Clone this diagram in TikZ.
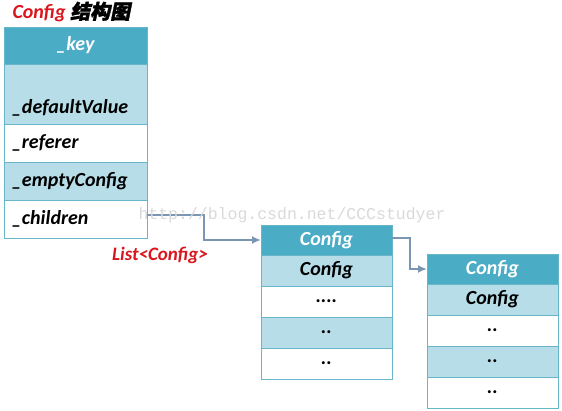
\documentclass[tikz,border=0pt]{standalone}
\usepackage{fontspec}
\setmainfont{Carlito}
\newfontfamily\cjkfont[FakeSlant=0.2,FakeBold=1.5]{Noto Sans CJK SC}
\newfontfamily\markfont{Liberation Mono}
\usepackage{xcolor}
\usetikzlibrary{positioning,arrows.meta}
\definecolor{HeadTeal}{HTML}{4BACC6}
\definecolor{RowBlue}{HTML}{B6DDE8}
\definecolor{GridTeal}{HTML}{68B6CA}
\definecolor{TitleRed}{HTML}{D9161E}
\definecolor{LinkGrey}{HTML}{7A96B2}

\tikzset{
  cell/.style={rectangle, draw=GridTeal, line width=0.8pt, outer sep=0pt,
    inner ysep=0pt, font=\fontsize{20}{23}\selectfont\bfseries\itshape},
  leftcell/.style={cell, minimum height=38pt, inner xsep=8pt, text width=127pt, align=left},
  chaincell/.style={cell, minimum height=31pt, minimum width=131pt, inner xsep=0pt, align=center},
  headrow/.style={fill=HeadTeal, text=white},
  bluerow/.style={fill=RowBlue},
  plainrow/.style={fill=white},
  link/.style={draw=LinkGrey, line width=2pt, -{Latex[length=9pt,width=8pt]}}
}

\begin{document}
\begin{tikzpicture}[x=1pt, y=-1pt]
  \useasboundingbox (0,0) rectangle (562,411);

  % title
  \node[anchor=west, font=\fontsize{20}{23}\selectfont\bfseries\itshape] (title) at (9,12)
    {\textcolor{TitleRed}{Config} {\cjkfont 结构图}};

  % Config structure
  \node[leftcell, headrow, minimum height=37pt, align=center] (key) at (75.5,45.5) {\_key};
  \node[leftcell, bluerow, below=0pt of key, minimum height=60pt, text height=44pt, text depth=5pt] (defval) {\_defaultValue};
  \node[leftcell, plainrow, below=0pt of defval] (referer) {\_referer};
  \node[leftcell, bluerow, below=0pt of referer] (empty) {\_emptyConfig};
  \node[leftcell, plainrow, below=0pt of empty] (children) {\_children};

  \node[font=\fontsize{19}{22}\selectfont\bfseries\itshape, text=TitleRed] (listlbl) at (160,255) {List<Config>};

  % first child
  \node[chaincell, headrow, minimum height=30pt] (cfgA) at (326.5,240) {Config};
  \node[chaincell, bluerow, below=0pt of cfgA] (cfgAname) {Config};
  \node[chaincell, plainrow, below=0pt of cfgAname] (cfgAone) {....};
  \node[chaincell, bluerow, below=0pt of cfgAone] (cfgAtwo) {..};
  \node[chaincell, plainrow, below=0pt of cfgAtwo] (cfgAthree) {..};

  % second child
  \node[chaincell, headrow, minimum height=30pt] (cfgB) at (492.5,269) {Config};
  \node[chaincell, bluerow, below=0pt of cfgB] (cfgBname) {Config};
  \node[chaincell, plainrow, below=0pt of cfgBname] (cfgBone) {..};
  \node[chaincell, bluerow, below=0pt of cfgBone] (cfgBtwo) {..};
  \node[chaincell, plainrow, below=0pt of cfgBtwo] (cfgBthree) {..};

  \draw[link] ([yshift=4pt]children.east) -- ++(57,0) |- (cfgA.west);
  \draw[link] ([yshift=2pt]cfgA.east) -- ++(18,0) |- (cfgB.west);

  \node[font=\markfont\fontsize{16.5}{20}\selectfont, text=gray!30] (mark) at (292,215) {http://blog.csdn.net/CCCstudyer};
\end{tikzpicture}
\end{document}
